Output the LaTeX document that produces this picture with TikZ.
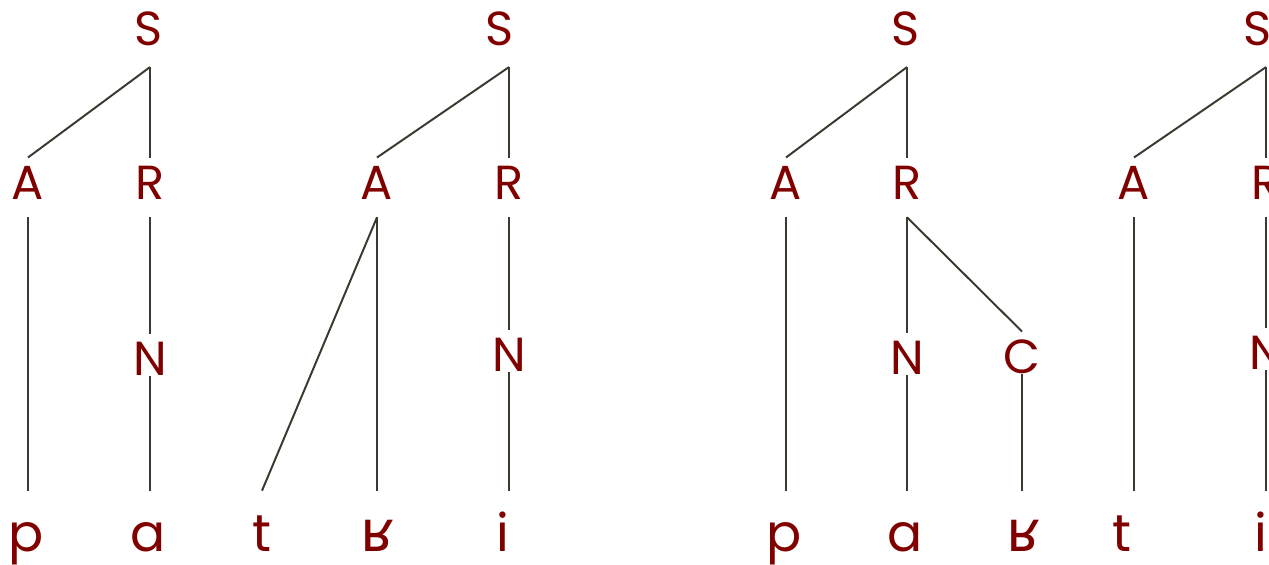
\documentclass[tikz,border=0pt]{standalone}
\usepackage{fontspec}
\setmainfont{Poppins}
\newfontfamily\ipafont[Scale=1.1]{DejaVu Sans}
\usepackage{tikz}
\usetikzlibrary{calc}
\definecolor{tree-text}{HTML}{800000}
\definecolor{tree-line}{HTML}{3C3A30}

\tikzset{
  cat/.style={text=tree-text, font=\fontsize{34}{34}\selectfont, inner sep=0pt, anchor=base, text height=1.03cm},
  hi/.style={cat, text depth=0.45cm},
  root/.style={cat, text depth=0.52cm},
  lo/.style={cat, text depth=0.03cm},
  seg/.style={text=tree-text, font=\fontsize{37}{37}\selectfont, inner sep=0pt, anchor=base, text height=1.5cm, text depth=0pt},
  link/.style={tree-line, line width=1.4pt}
}

\begin{document}
\begin{tikzpicture}[x=0.025cm, y=-0.025cm]
    \useasboundingbox (0,0) rectangle (1269,565);
    % First tree: p a
    \node[root] (S1) at (149,46) {S};
    \node[hi] (A1) at (28,199) {A};
    \node[hi] (R1) at (150,199) {R};
    \node[lo] (N1) at (150,375) {N};
    \node[seg] (p1) at (26,551) {p};
    \node[seg] (a1) at (148,551) {a};
    \draw[link] (R1.north |- S1.south) -- (A1.north);
    \draw[link] (R1.north |- S1.south) -- (R1.north);
    \draw[link] (A1.south) -- (A1.south |- p1.north);
    \draw[link] (R1.south) -- (N1.north);
    \draw[link] (N1.south) -- (N1.south |- a1.north);
    % Second tree: t ʁ i
    \node[root] (S2) at (500,46) {S};
    \node[hi] (A2) at (377,199) {A};
    \node[hi] (R2) at (509,199) {R};
    \node[lo] (N2) at (509,371) {N};
    \node[seg] (t2) at (262,551) {t};
    \node[seg] (r2) at (378,551) {\ipafont ʁ};
    \node[seg] (i2) at (503,551) {i};
    \draw[link] (R2.north |- S2.south) -- (A2.north);
    \draw[link] (R2.north |- S2.south) -- (R2.north);
    \draw[link] (A2.south) -- (t2.north);
    \draw[link] (A2.south) -- (A2.south |- r2.north);
    \draw[link] (R2.south) -- (N2.north);
    \draw[link] (N2.south) -- (N2.south |- i2.north);
    % Third tree: p a ʁ
    \node[root] (S3) at (906,46) {S};
    \node[hi] (A3) at (786,199) {A};
    \node[hi] (R3) at (907,199) {R};
    \node[lo] (N3) at (907,374) {N};
    \node[lo] (C3) at (1022,373) {C};
    \node[seg] (p3) at (784,551) {p};
    \node[seg] (a3) at (905,551) {a};
    \node[seg] (r3) at (1024,551) {\ipafont ʁ};
    \draw[link] (R3.north |- S3.south) -- (A3.north);
    \draw[link] (R3.north |- S3.south) -- (R3.north);
    \draw[link] (A3.south) -- (A3.south |- p3.north);
    \draw[link] (R3.south) -- (N3.north);
    \draw[link] (R3.south) -- (C3.north);
    \draw[link] (N3.south) -- (N3.south |- a3.north);
    \draw[link] (C3.south) -- (C3.south |- r3.north);
    % Fourth tree: t i
    \node[root] (S4) at (1258,46) {S};
    \node[hi] (A4) at (1134,199) {A};
    \node[hi] (R4) at (1266,199) {R};
    \node[lo] (N4) at (1266,369) {N};
    \node[seg] (t4) at (1122,551) {t};
    \node[seg] (i4) at (1261,551) {i};
    \draw[link] (R4.north |- S4.south) -- (A4.north);
    \draw[link] (R4.north |- S4.south) -- (R4.north);
    \draw[link] (A4.south) -- (A4.south |- t4.north);
    \draw[link] (R4.south) -- (N4.north);
    \draw[link] (N4.south) -- (N4.south |- i4.north);
\end{tikzpicture}
\end{document}
